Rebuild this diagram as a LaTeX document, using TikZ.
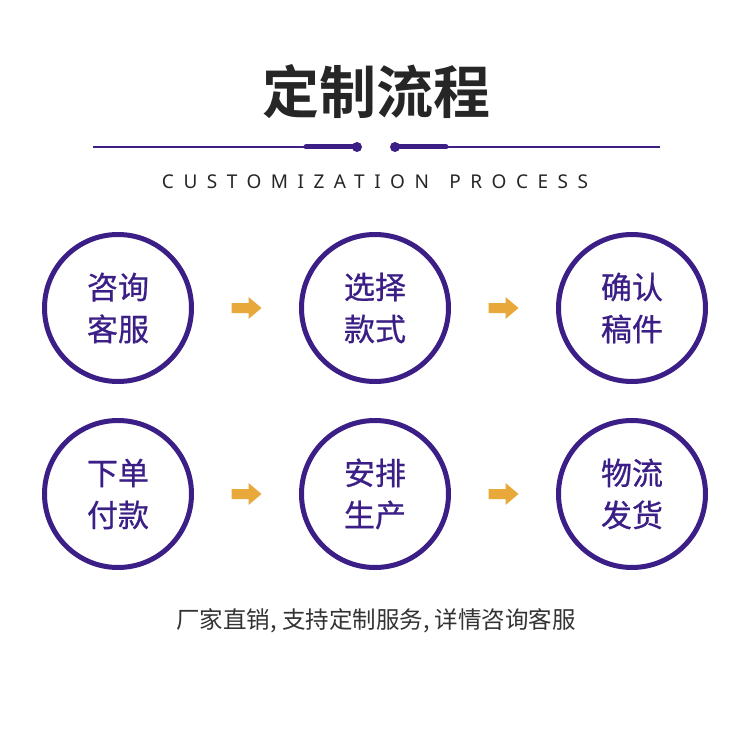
\documentclass[tikz,border=0pt]{standalone}
\usepackage{fontspec}
\newfontfamily\cjk{Noto Sans CJK SC}
\newfontfamily\cjkm[FakeBold=0.7]{Noto Sans CJK SC}
\newfontfamily\cjkb{Noto Sans CJK SC Bold}
\newfontfamily\latin[LetterSpace=50]{Noto Sans}
\usetikzlibrary{calc}
\definecolor{pur}{HTML}{3B1F86}
\definecolor{org}{HTML}{E8A83A}
\definecolor{txt}{HTML}{333333}
\tikzset{
  step circ/.style={circle, draw=pur, line width=5pt, minimum size=147pt, inner sep=0pt,
     text=pur, font=\cjkm\fontsize{31}{42}\selectfont, align=center},
  flow arrow/.pic={\fill[org] (-15,-5) -- (2,-5) -- (2,-11) -- (15,0) -- (2,11) -- (2,5) -- (-15,5) -- cycle;},
}
\begin{document}
\begin{tikzpicture}[x=1pt,y=-1pt]
\useasboundingbox (0,0) rectangle (750,738);
\fill[white] (0,0) rectangle (750,738);
\node[font=\cjkb\fontsize{57}{60}\selectfont, text=black!85] (title) at (376,92) {定制流程};
% decorative line
\coordinate (l0) at (93,147); \coordinate (l1) at (306,147); \coordinate (l2) at (357,147);
\coordinate (r0) at (660,147); \coordinate (r1) at (446,147); \coordinate (r2) at (395,147);
\draw[pur, line width=2pt] (l0) -- (l1);
\draw[pur, line width=5pt, line cap=round] (l1) -- (l2);
\fill[pur] (l2) circle (5pt);
\draw[pur, line width=2pt] (r0) -- (r1);
\draw[pur, line width=5pt, line cap=round] (r1) -- (r2);
\fill[pur] (r2) circle (5pt);
\node[font=\latin\fontsize{19}{20}\selectfont, text=black!85] (sub) at (375,182) {CUSTOMIZATION\hspace{6pt} PROCESS};
% circles
\node[step circ] (a) at (118,308) {咨询\\客服};
\node[step circ] (b) at (375,308) {选择\\款式};
\node[step circ] (c) at (632,308) {确认\\稿件};
\node[step circ] (d) at (118,494) {下单\\付款};
\node[step circ] (e) at (375,494) {安排\\生产};
\node[step circ] (f) at (632,494) {物流\\发货};
\coordinate (ab) at ($(a)!0.5!(b)$);
\coordinate (bc) at ($(b)!0.5!(c)$);
\coordinate (de) at ($(d)!0.5!(e)$);
\coordinate (ef) at ($(e)!0.5!(f)$);
\foreach \m in {ab,bc,de,ef} \pic at (\m) {flow arrow};
\node[font=\cjk\fontsize{23.5}{26}\selectfont, text=txt] (foot) at (376,621) {厂家直销, 支持定制服务, 详情咨询客服};
\end{tikzpicture}
\end{document}
